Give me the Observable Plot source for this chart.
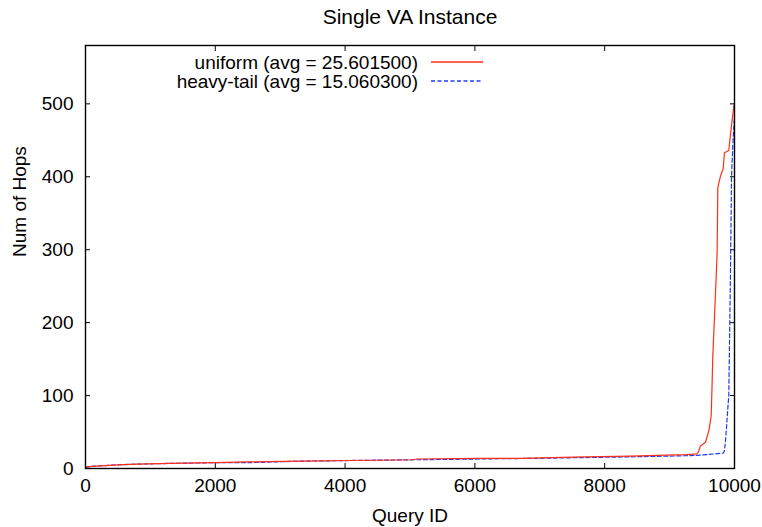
<!DOCTYPE html>
<html>
<head>
<meta charset="utf-8">
<script src="https://cdn.jsdelivr.net/npm/d3@7"></script>
<script src="https://cdn.jsdelivr.net/npm/@observablehq/plot@0.6"></script>
<style>
  html, body { margin: 0; padding: 0; background: #fff; }
  #chart svg { display: block; }
</style>
</head>
<body>
<div id="chart"></div>
<script>
// Hops per query, queries sorted by hop count (Query ID on x).
const uniformQuery = [0, 100, 500, 800, 1300, 2000, 2500, 3300, 4100, 5050, 5100, 6050, 6700, 7700, 8400, 8800, 9260, 9420, 9440, 9476, 9553, 9605, 9641, 9656, 9665, 9707, 9732, 9743, 9784, 9825, 9845, 9912, 9928, 9963, 9990, 10000];
const uniformHops  = [2, 3, 5, 6, 7, 8, 9, 10, 11, 12, 13, 14, 14, 16, 17, 18, 19, 20, 22, 31, 36, 52, 72, 120, 152, 240, 294, 385, 401, 411, 433, 436, 450, 477, 497, 500];

const heavyQuery = [0, 100, 500, 800, 1300, 2000, 2500, 3300, 4100, 5100, 6050, 7000, 7700, 8400, 9000, 9420, 9825, 9845, 9861, 9877, 9895, 9912, 9938, 9954, 9978, 10000];
const heavyHops  = [2, 3, 5, 6, 7, 8, 8, 10, 11, 12, 13, 14, 15, 16, 17, 18, 21, 24, 38, 56, 80, 100, 267, 400, 450, 484];

const seriesNames = ["uniform", "heavy-tail"];
const seriesAvg = [25.6015, 15.0603];
const seriesColors = ["#ff2e17", "#1f3cf2"];
const seriesDash = ["none", "4,2.5"];

const xTicks = [0, 2000, 4000, 6000, 8000, 10000];
const yTicks = [0, 100, 200, 300, 400, 500];

const titleText = "Single VA Instance";
const xLabel = "Query ID";
const yLabel = "Num of Hops";

const uniform = uniformQuery.map((q, i) => ({q, hops: uniformHops[i]}));
const heavy = heavyQuery.map((q, i) => ({q, hops: heavyHops[i]}));

const font = "'Liberation Sans', Arial, Helvetica, sans-serif";
const W = 762, H = 527;
const mL = 85, mR = 28, mT = 45, mB = 59;

const chart = Plot.plot({
  width: W,
  height: H,
  marginLeft: mL,
  marginRight: mR,
  marginTop: mT,
  marginBottom: mB,
  style: {fontFamily: font, fontSize: "19px", color: "#000", background: "#fff"},
  x: {domain: [0, 10000]},
  y: {domain: [0, 580]},
  marks: [
    Plot.axisX({ticks: xTicks, anchor: "bottom", tickSize: -5, tickPadding: 15, tickFormat: d => String(d), label: null, fontSize: 19}),
    Plot.axisX({ticks: xTicks, anchor: "top", tickSize: -5, tickFormat: () => "", label: null}),
    Plot.axisY({ticks: yTicks, anchor: "left", tickSize: -5, tickPadding: 17, tickFormat: d => String(d), label: null, fontSize: 19}),
    Plot.axisY({ticks: yTicks, anchor: "right", tickSize: -5, tickFormat: () => "", label: null}),
    Plot.line(heavy, {x: "q", y: "hops", stroke: seriesColors[1], strokeWidth: 1.2, strokeDasharray: seriesDash[1]}),
    Plot.line(uniform, {x: "q", y: "hops", stroke: seriesColors[0], strokeWidth: 1.2}),
    Plot.frame({stroke: "#000", strokeWidth: 1.4}),
    Plot.text([titleText], {frameAnchor: "top", dy: -28, lineAnchor: "middle", fontSize: 21, fill: "#000"}),
    Plot.text([xLabel], {frameAnchor: "bottom", dy: 47, lineAnchor: "middle", fontSize: 19, fill: "#000"}),
    Plot.text([yLabel], {frameAnchor: "left", dx: -66, rotate: -90, lineAnchor: "middle", fontSize: 19, fill: "#000"})
  ]
});

// Key in the upper part of the plot area
const svg = d3.select(chart);
const key = svg.append("g").attr("font-family", font).attr("font-size", 19);
seriesNames.forEach((name, i) => {
  const cy = 62 + i * 19;
  key.append("text")
    .attr("x", 418).attr("y", cy).attr("dy", "0.35em")
    .attr("text-anchor", "end").attr("fill", "#000")
    .text(`${name} (avg = ${seriesAvg[i].toFixed(6)})`);
  key.append("path")
    .attr("d", `M431,${cy}H483`)
    .attr("fill", "none")
    .attr("stroke", seriesColors[i]).attr("stroke-width", 1.3)
    .attr("stroke-dasharray", seriesDash[i]);
});

document.getElementById("chart").appendChild(chart);
</script>
</body>
</html>
